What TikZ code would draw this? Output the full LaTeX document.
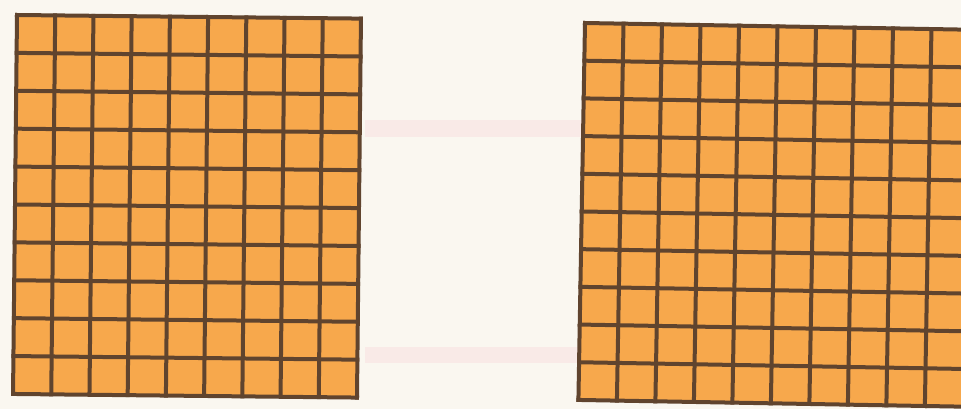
\documentclass[tikz,border=0pt]{standalone}
\usepackage{tikz}
\definecolor{paper}{RGB}{250,247,240}
\definecolor{bleed}{RGB}{249,234,231}
\definecolor{cellfill}{RGB}{247,168,76}
\definecolor{gridline}{RGB}{96,68,46}
\tikzset{
  cellarea/.style={fill=cellfill},
  gridrule/.style={draw=gridline, line width=4pt, line cap=rect},
}
\begin{document}
\begin{tikzpicture}[x=1pt,y=-1pt]
  \useasboundingbox (0,0) rectangle (961,409);
  \fill[paper] (0,0) rectangle (961,409);
  % faint scan bleed-through bands
  \fill[bleed] (365,120) rectangle (585,137);
  \fill[bleed] (365,347) rectangle (585,363);
  % left grid: 9 columns x 10 rows
  \begin{scope}[shift={(17,15)}, rotate=-0.6]
    \fill[cellarea] (0,0) rectangle (344,379);
    \foreach \i in {0,...,9} {
      \draw[gridrule] ({\i*344/9},0) -- ({\i*344/9},379);
    }
    \foreach \j in {0,...,10} {
      \draw[gridrule] (0,{\j*37.9}) -- (344,{\j*37.9});
    }
  \end{scope}
  % right grid: 10 columns x 10 rows (cut at the right edge)
  \begin{scope}[shift={(585,23)}, rotate=-1]
    \fill[cellarea] (0,0) rectangle (385,377);
    \foreach \i in {0,...,10} {
      \draw[gridrule] ({\i*38.5},0) -- ({\i*38.5},377);
    }
    \foreach \j in {0,...,10} {
      \draw[gridrule] (0,{\j*37.7}) -- (385,{\j*37.7});
    }
  \end{scope}
\end{tikzpicture}
\end{document}
